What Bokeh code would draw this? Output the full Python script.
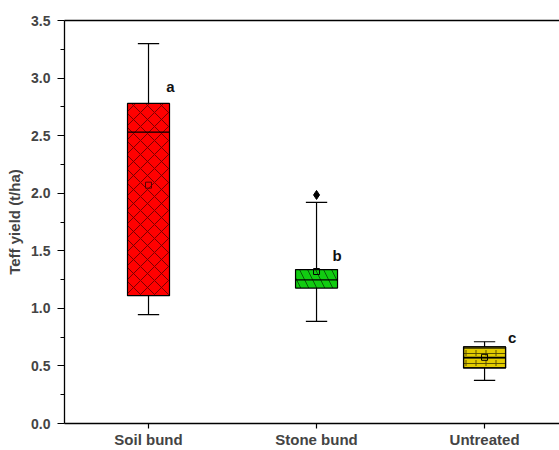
from bokeh.plotting import figure
from bokeh.models import LinearAxis, FixedTicker, Range1d
from bokeh.core.properties import value
from bokeh.embed import file_html
from bokeh.resources import INLINE

categories = ["Soil bund", "Stone bund", "Untreated"]
xpos = [1, 2, 3]
upper = [3.30, 1.92, 0.71]
q3 = [2.78, 1.337, 0.665]
median = [2.53, 1.248, 0.575]
mean = [2.07, 1.32, 0.575]
q1 = [1.11, 1.176, 0.483]
lower = [0.945, 0.887, 0.375]
outlier_x = [2]
outlier_y = [1.985]
letters = ["a", "b", "c"]
letter_x = [1.105, 2.095, 3.14]
letter_y = [2.93, 1.46, 0.75]
fill_colors = ["#ff0000", "#11cc11", "#e3cc00"]
hatches = ["x", "\\", "-"]
hatch_colors = ["#6a0000", "#064d06", "#4d4500"]
hatch_scales = [14, 16, 5]
yticks = [0.0, 0.5, 1.0, 1.5, 2.0, 2.5, 3.0, 3.5]

FONT = "Liberation Sans"

p = figure(width=559, height=450, output_backend="svg", toolbar_location=None,
           x_range=Range1d(0.5, 3.446), y_range=Range1d(0, 3.5),
           min_border_left=64, min_border_right=0, min_border_top=20, min_border_bottom=26)
p.outline_line_color = None
p.grid.visible = False
p.background_fill_color = "white"

box_w = 0.125
cap_w = 0.0635
for i in range(3):
    x = xpos[i]
    p.segment(x0=[x], y0=[q3[i]], x1=[x], y1=[upper[i]], line_color="black", line_width=1.2)
    p.segment(x0=[x], y0=[q1[i]], x1=[x], y1=[lower[i]], line_color="black", line_width=1.2)
    p.segment(x0=[x - cap_w], y0=[upper[i]], x1=[x + cap_w], y1=[upper[i]], line_color="black", line_width=1.2)
    p.segment(x0=[x - cap_w], y0=[lower[i]], x1=[x + cap_w], y1=[lower[i]], line_color="black", line_width=1.2)
    p.quad(left=[x - box_w], right=[x + box_w], bottom=[q1[i]], top=[q3[i]],
           fill_color=fill_colors[i], line_color="black", line_width=1.2,
           hatch_pattern=hatches[i], hatch_color=hatch_colors[i],
           hatch_scale=hatch_scales[i], hatch_weight=0.9)
    if i == 2:
        p.quad(left=[x - box_w], right=[x + box_w], bottom=[q1[i]], top=[q3[i]],
               fill_color=None, line_color="black", line_width=1.2,
               hatch_pattern=":", hatch_color=hatch_colors[i], hatch_scale=10, hatch_weight=0.9)
    p.segment(x0=[x - box_w], y0=[median[i]], x1=[x + box_w], y1=[median[i]], line_color="black", line_width=1.3)
    p.scatter(x=[x], y=[mean[i]], marker="square", size=6, fill_color=None,
              line_color="#5a0000" if i == 0 else "black", line_width=1)

p.scatter(x=outlier_x, y=outlier_y, marker="diamond", size=9, fill_color="black", line_color="black")

p.text(x=letter_x, y=letter_y, text=letters, text_font=value(FONT), text_font_style="bold",
       text_font_size="15px", text_align="left", text_baseline="middle", text_color="#111111")

# axes
p.yaxis.ticker = FixedTicker(ticks=yticks, minor_ticks=[0.25 + 0.5 * k for k in range(7)])
p.yaxis.major_label_overrides = {t: f"{t:.1f}" for t in yticks}
p.yaxis.axis_label = "Teff yield (t/ha)"
p.yaxis.axis_label_text_font = FONT
p.yaxis.axis_label_text_font_style = "bold"
p.yaxis.axis_label_text_font_size = "15px"
p.yaxis.axis_label_standoff = 5
p.yaxis.major_label_text_font = FONT
p.yaxis.major_label_text_font_style = "bold"
p.yaxis.major_label_text_font_size = "14px"
p.yaxis.major_label_standoff = 7
p.yaxis.major_tick_out = 7
p.yaxis.major_tick_in = 0
p.yaxis.minor_tick_out = 4
p.yaxis.minor_tick_in = 0
p.yaxis.axis_line_width = 1.3
p.yaxis.major_tick_line_width = 1.2

p.xaxis.ticker = FixedTicker(ticks=xpos, minor_ticks=[])
p.xaxis.major_label_overrides = {x: c for x, c in zip(xpos, categories)}
p.xaxis.major_label_text_font = FONT
p.xaxis.major_label_text_font_style = "bold"
p.xaxis.major_label_text_font_size = "15px"
p.xaxis.major_label_standoff = 2
p.xaxis.major_tick_out = 5
p.xaxis.major_tick_in = 0
p.xaxis.minor_tick_line_color = None
p.xaxis.axis_line_width = 1.3
p.xaxis.major_tick_line_width = 1.2

top = LinearAxis(major_tick_line_color=None, minor_tick_line_color=None,
                 major_label_text_font_size="0px", axis_line_width=1.3)
top.ticker = FixedTicker(ticks=[])
p.add_layout(top, "above")

open("out.html", "w").write(file_html(p, INLINE))
